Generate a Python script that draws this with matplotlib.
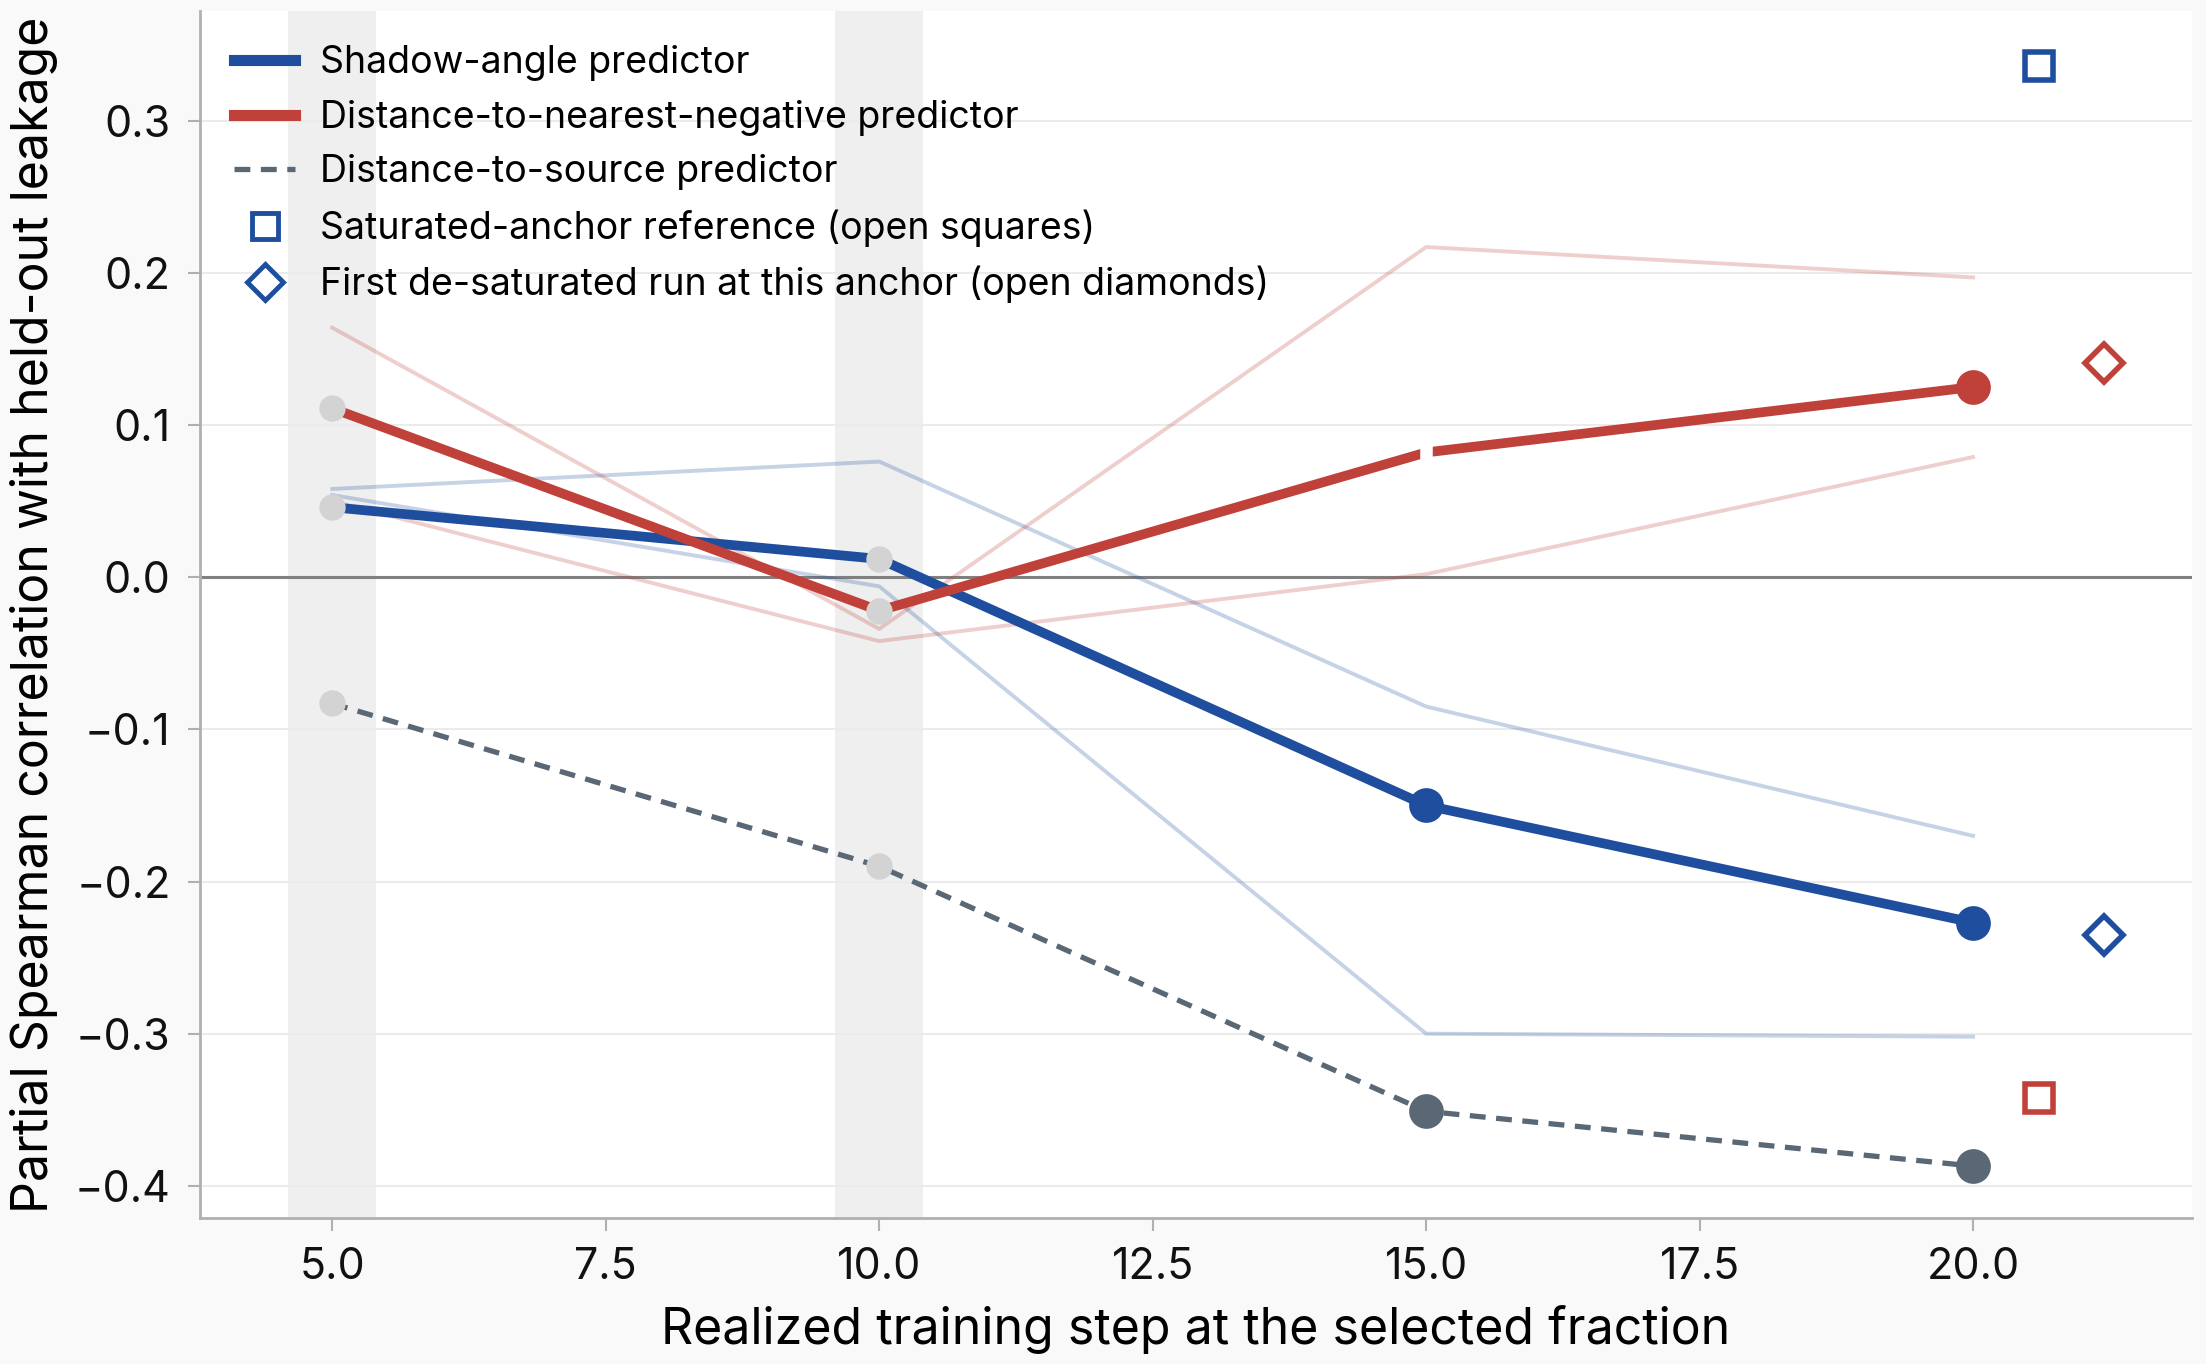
import matplotlib
matplotlib.use("Agg")
import matplotlib.pyplot as plt
from matplotlib.lines import Line2D

plt.rcParams["font.family"] = ["Inter", "DejaVu Sans"]

# training steps at the selected fraction
steps = [5, 10, 15, 20]

# main predictors
shadow = [0.046, 0.012, -0.150, -0.227]
nearest_neg = [0.111, -0.022, 0.082, 0.125]
source = [-0.083, -0.190, -0.351, -0.387]

# faint per-run traces
shadow_runs = [
    [0.058, 0.076, -0.085, -0.170],
    [0.054, -0.006, -0.300, -0.302],
]
neg_runs = [
    [0.164, -0.034, 0.217, 0.197],
    [0.050, -0.042, 0.002, 0.079],
]

# saturated-anchor reference (open squares) and de-saturated runs (open diamonds)
sq_x = [20.6, 20.6]
sq_y = [0.336, -0.342]
dia_x = [21.2, 21.2]
dia_y = [-0.235, 0.141]

# anchors that are saturated (greyed markers)
saturated_steps = [5, 10]

BLUE = "#1f4e9e"
RED = "#c0403a"
SLATE = "#5a6775"
GREY_MK = "#d3d3d3"

fig = plt.figure(figsize=(22.06, 13.64), dpi=100, facecolor="#f9f9f9")
ax = fig.add_axes([0.0906, 0.1072, 0.903, 0.8846])
ax.set_facecolor("white")

for s in saturated_steps:
    ax.axvspan(s - 0.4, s + 0.4, color="#efefef", zorder=0, lw=0)

ax.axhline(0, color="#808080", lw=2.2, zorder=1)

for r in shadow_runs:
    ax.plot(steps, r, color=BLUE, alpha=0.25, lw=2.8, zorder=2)
for r in neg_runs:
    ax.plot(steps, r, color=RED, alpha=0.25, lw=2.8, zorder=2)

ax.plot(steps, shadow, color=BLUE, lw=7, zorder=3)
ax.plot(steps, nearest_neg, color=RED, lw=7, zorder=3)
ax.plot(steps, source, color=SLATE, lw=3.8, ls=(0, (3, 2)), zorder=3)

# markers: grey at saturated anchors, coloured elsewhere
for ys, c in [(shadow, BLUE), (nearest_neg, RED), (source, SLATE)]:
    for x, y in zip(steps, ys):
        if x in saturated_steps:
            ax.plot(x, y, "o", ms=19, color=GREY_MK, mec="none", zorder=4)
        elif c == RED and x == 15:
            # open gap in the line at this anchor
            ax.plot(x, y, "|", ms=12, mec="white", mew=9, zorder=4)
        else:
            ax.plot(x, y, "o", ms=25, color=c, mec="none", zorder=4)

ax.plot(sq_x[0], sq_y[0], "s", ms=20, mfc="white", mec=BLUE, mew=4, zorder=5)
ax.plot(sq_x[1], sq_y[1], "s", ms=20, mfc="white", mec=RED, mew=4, zorder=5)
ax.plot(dia_x[0], dia_y[0], "D", ms=19, mfc="white", mec=BLUE, mew=4, zorder=5)
ax.plot(dia_x[1], dia_y[1], "D", ms=19, mfc="white", mec=RED, mew=4, zorder=5)

ax.set_xlim(3.79, 22.0)
ax.set_ylim(-0.421, 0.372)
ax.set_xticks([5, 7.5, 10, 12.5, 15, 17.5, 20])
ax.set_xticklabels(["5.0", "7.5", "10.0", "12.5", "15.0", "17.5", "20.0"])
ax.set_yticks([-0.4, -0.3, -0.2, -0.1, 0.0, 0.1, 0.2, 0.3])
ax.set_yticklabels(["\u22120.4", "\u22120.3", "\u22120.2", "\u22120.1", "0.0", "0.1", "0.2", "0.3"])
ax.yaxis.grid(True, color="#ebebeb", lw=1.5, zorder=0)
ax.set_axisbelow(True)

for side in ["top", "right"]:
    ax.spines[side].set_visible(False)
for side in ["left", "bottom"]:
    ax.spines[side].set_color("#b0b0b0")
    ax.spines[side].set_linewidth(2)
ax.tick_params(axis="both", colors="#b0b0b0", labelcolor="#111111",
               labelsize=31, length=9, width=1.5, pad=12)

ax.set_xlabel("Realized training step at the selected fraction", fontsize=36, labelpad=12)
ax.set_ylabel("Partial Spearman correlation with held-out leakage", fontsize=36, labelpad=12)

handles = [
    Line2D([], [], color=BLUE, lw=8),
    Line2D([], [], color=RED, lw=8),
    Line2D([], [], color=SLATE, lw=3.8, ls=(0, (3, 2))),
    Line2D([], [], ls="none", marker="s", ms=19, mfc="white", mec=BLUE, mew=3.5),
    Line2D([], [], ls="none", marker="D", ms=18, mfc="white", mec=BLUE, mew=3.5),
]
labels = [
    "Shadow-angle predictor",
    "Distance-to-nearest-negative predictor",
    "Distance-to-source predictor",
    "Saturated-anchor reference (open squares)",
    "First de-saturated run at this anchor (open diamonds)",
]
ax.legend(handles, labels, loc="upper left", frameon=False, fontsize=27,
          handlelength=1.65, handletextpad=0.65, labelspacing=0.5,
          borderaxespad=0.5)

fig.savefig("out.png", dpi=100, facecolor=fig.get_facecolor())
